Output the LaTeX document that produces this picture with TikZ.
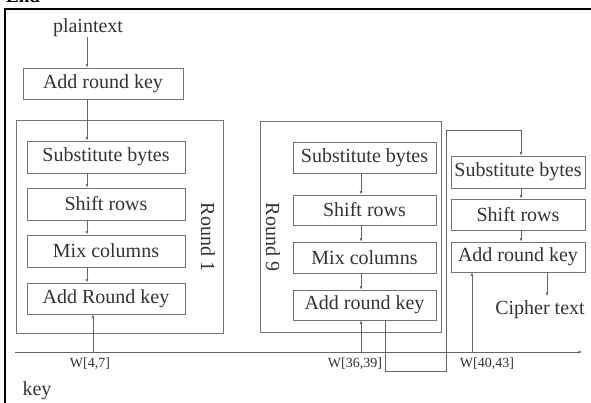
\documentclass[tikz,border=0pt]{standalone}
\usepackage{fontspec}
\setmainfont{Liberation Serif}
\usetikzlibrary{arrows.meta}

\tikzset{
  stepbox/.style={draw=black!55, line width=0.9pt, inner sep=0pt, text=black!80,
                  font=\fontsize{20}{23}\selectfont},
  roundframe/.style={draw=black!55, line width=0.9pt, inner sep=0pt},
  label text/.style={inner sep=0pt, text=black!80, font=\fontsize{20}{23}\selectfont},
  key text/.style={inner sep=0pt, text=black!80, font=\fontsize{14}{16}\selectfont},
  flow/.style={draw=black!60, line width=0.8pt},
  arrowed/.style={flow, -{Latex[length=3.5pt,width=3pt]}},
}

\begin{document}
\begin{tikzpicture}[x=1pt,y=-1pt]
  \useasboundingbox (0,0) rectangle (591,403);
  \clip (0,0) rectangle (591,403);

  % enclosing frame and clipped heading above it
  \node[anchor=base west, inner sep=0pt, font=\bfseries\fontsize{19}{22}\selectfont] (hdr) at (6,3) {End};
  \draw[line width=2.2pt] (5,403) -- (5,9) -- (591,9);

  % initial key addition
  \node[label text] (pt) at (88,28) {plaintext};
  \node[stepbox, minimum width=160, minimum height=31] (ark0) at (103,83.5) {Add round key};

  % round 1
  \node[roundframe, minimum width=207, minimum height=213] (r1) at (119.5,226.5) {};
  \node[stepbox, minimum width=158, minimum height=32] (sb1) at (106,157) {Substitute bytes};
  \node[stepbox, minimum width=158, minimum height=32] (sr1) at (106,204) {Shift rows};
  \node[stepbox, minimum width=158, minimum height=32] (mc1) at (106,251) {Mix columns};
  \node[stepbox, minimum width=158, minimum height=31] (ark1) at (106,298.5) {Add Round key};
  \node[label text, rotate=-90] (r1lab) at (208,237) {Round 1};

  % round 9
  \node[roundframe, minimum width=181, minimum height=211] (r9) at (351,226.5) {};
  \node[stepbox, minimum width=143, minimum height=31] (sb9) at (364.5,157.5) {Substitute bytes};
  \node[stepbox, minimum width=143, minimum height=30] (sr9) at (364.5,210) {Shift rows};
  \node[stepbox, minimum width=143, minimum height=31] (mc9) at (364.5,257.5) {Mix columns};
  \node[stepbox, minimum width=143, minimum height=30] (ark9) at (364.5,305) {Add round key};
  \node[label text, rotate=-90] (r9lab) at (273,237) {Round 9};

  % final round
  \node[stepbox, minimum width=134, minimum height=32] (sb10) at (518,172) {Substitute bytes};
  \node[stepbox, minimum width=134, minimum height=31] (sr10) at (518,214.5) {Shift rows};
  \node[stepbox, minimum width=134, minimum height=30] (ark10) at (518,257) {Add round key};
  \node[label text] (ct) at (540,310) {Cipher text};

  % key schedule line
  \coordinate (kstart) at (15,352);
  \coordinate (kend) at (582,352);
  \draw[arrowed] (kstart) -- (kend);
  \node[key text] (w1) at (90,364) {W[4,7]};
  \node[key text] (w9) at (355,364) {W[36,39]};
  \node[key text] (w10) at (487,364) {W[40,43]};
  \node[label text] (key) at (37,391) {key};

  % data path through round 1
  \draw[arrowed] (pt.south -| 87,0) -- (ark0.north -| 87,0);
  \draw[arrowed] (ark0.south -| 87,0) -- (sb1.north -| 87,0);
  \draw[arrowed] (sb1.south -| 87,0) -- (sr1.north -| 87,0);
  \draw[arrowed] (sr1.south -| 87,0) -- (mc1.north -| 87,0);
  \draw[arrowed] (mc1.south -| 87,0) -- (ark1.north -| 87,0);
  \draw[arrowed] (kstart -| 93,0) -- (ark1.south -| 93,0);

  % data path through round 9
  \draw[arrowed] (sb9.south -| 361,0) -- (sr9.north -| 361,0);
  \draw[arrowed] (sr9.south -| 361,0) -- (mc9.north -| 361,0);
  \draw[arrowed] (mc9.south -| 361,0) -- (ark9.north -| 361,0);
  \draw[arrowed] (kstart -| 361,0) -- (ark9.south -| 361,0);

  % round 9 output fed into the final round
  \draw[arrowed] (ark9.south -| 385,0) -- (385,371) -- (446,371) -- (446,130)
                 -- (521,130) -- (sb10.north -| 521,0);

  % data path through the final round
  \draw[arrowed] (sb10.south -| 521,0) -- (sr10.north -| 521,0);
  \draw[arrowed] (sr10.south -| 521,0) -- (ark10.north -| 521,0);
  \draw[arrowed] (kstart -| 472,0) -- (ark10.south -| 472,0);
  \draw[arrowed] (ark10.south -| 547,0) -- (547,296);
\end{tikzpicture}
\end{document}
